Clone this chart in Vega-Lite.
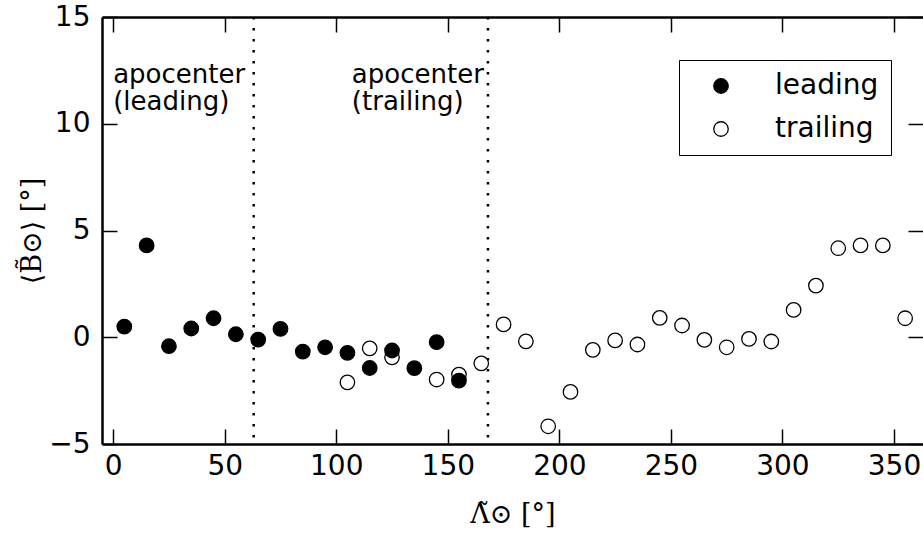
{
  "$schema": "https://vega.github.io/schema/vega-lite/v6.json",
  "width": 821,
  "height": 427,
  "autosize": {"type": "none"},
  "padding": {"left": 102, "top": 17, "right": 0, "bottom": 90},
  "background": "white",
  "config": {
    "view": {"stroke": null},
    "font": "DejaVu Sans",
    "axis": {
      "domainColor": "black",
      "domainWidth": 2.5,
      "tickColor": "black",
      "tickWidth": 1.5,
      "tickSize": -15,
      "labelFont": "DejaVu Sans",
      "labelFontSize": 28,
      "labelColor": "black",
      "grid": false,
      "titleFont": "DejaVu Serif",
      "titleFontSize": 27,
      "titleFontWeight": "normal",
      "titleColor": "black"
    }
  },
  "datasets": {
    "pts": [
      {"lon": 105, "B": -2.11, "arm": "trailing"},
      {"lon": 115, "B": -0.52, "arm": "trailing"},
      {"lon": 125, "B": -0.94, "arm": "trailing"},
      {"lon": 145, "B": -1.98, "arm": "trailing"},
      {"lon": 155, "B": -1.75, "arm": "trailing"},
      {"lon": 165, "B": -1.22, "arm": "trailing"},
      {"lon": 175, "B": 0.6, "arm": "trailing"},
      {"lon": 185, "B": -0.19, "arm": "trailing"},
      {"lon": 195, "B": -4.17, "arm": "trailing"},
      {"lon": 205, "B": -2.56, "arm": "trailing"},
      {"lon": 215, "B": -0.59, "arm": "trailing"},
      {"lon": 225, "B": -0.15, "arm": "trailing"},
      {"lon": 235, "B": -0.34, "arm": "trailing"},
      {"lon": 245, "B": 0.91, "arm": "trailing"},
      {"lon": 255, "B": 0.55, "arm": "trailing"},
      {"lon": 265, "B": -0.12, "arm": "trailing"},
      {"lon": 275, "B": -0.47, "arm": "trailing"},
      {"lon": 285, "B": -0.08, "arm": "trailing"},
      {"lon": 295, "B": -0.2, "arm": "trailing"},
      {"lon": 305, "B": 1.28, "arm": "trailing"},
      {"lon": 315, "B": 2.42, "arm": "trailing"},
      {"lon": 325, "B": 4.17, "arm": "trailing"},
      {"lon": 335, "B": 4.3, "arm": "trailing"},
      {"lon": 345, "B": 4.3, "arm": "trailing"},
      {"lon": 355, "B": 0.89, "arm": "trailing"},
      {"lon": 5, "B": 0.5, "arm": "leading"},
      {"lon": 15, "B": 4.3, "arm": "leading"},
      {"lon": 25, "B": -0.42, "arm": "leading"},
      {"lon": 35, "B": 0.41, "arm": "leading"},
      {"lon": 45, "B": 0.89, "arm": "leading"},
      {"lon": 55, "B": 0.14, "arm": "leading"},
      {"lon": 65, "B": -0.11, "arm": "leading"},
      {"lon": 75, "B": 0.39, "arm": "leading"},
      {"lon": 85, "B": -0.67, "arm": "leading"},
      {"lon": 95, "B": -0.47, "arm": "leading"},
      {"lon": 105, "B": -0.73, "arm": "leading"},
      {"lon": 115, "B": -1.44, "arm": "leading"},
      {"lon": 125, "B": -0.62, "arm": "leading"},
      {"lon": 135, "B": -1.45, "arm": "leading"},
      {"lon": 145, "B": -0.23, "arm": "leading"},
      {"lon": 155, "B": -2.03, "arm": "leading"}
    ],
    "apo": [
      {"lon": 63},
      {"lon": 168}
    ],
    "notes": [
      {"lon": 0, "B": 12, "note": "apocenter\n(leading)"},
      {"lon": 107, "B": 12, "note": "apocenter\n(trailing)"}
    ]
  },
  "resolve": {"axis": {"x": "independent", "y": "independent"}},
  "layer": [
    {
      "data": {"name": "apo"},
      "mark": {"type": "rule", "color": "black", "strokeWidth": 2.5, "strokeDash": [2.5, 8.5]},
      "encoding": {
        "x": {"field": "lon", "type": "quantitative", "scale": {"domain": [-5, 363], "nice": false}, "axis": null}
      }
    },
    {
      "data": {"name": "notes"},
      "mark": {"type": "text", "align": "left", "baseline": "alphabetic", "dy": 2, "fontSize": 26, "lineHeight": 27, "lineBreak": "\n", "color": "black", "font": "DejaVu Sans"},
      "encoding": {
        "x": {"field": "lon", "type": "quantitative", "scale": {"domain": [-5, 363], "nice": false},
              "axis": {"orient": "top", "labels": false, "title": null, "values": [0, 50, 100, 150, 200, 250, 300, 350]}},
        "y": {"field": "B", "type": "quantitative", "scale": {"domain": [-5, 15], "nice": false},
              "axis": {"orient": "right", "labels": false, "domain": false, "title": null, "values": [-5, 0, 5, 10, 15]}},
        "text": {"field": "note"}
      }
    },
    {
      "data": {"name": "pts"},
      "mark": {"type": "point", "shape": "circle", "filled": true, "stroke": "black", "strokeWidth": 1.3, "size": 210, "opacity": 1},
      "encoding": {
        "x": {"field": "lon", "type": "quantitative", "scale": {"domain": [-5, 363], "nice": false},
              "axis": {"orient": "bottom", "title": "Λ̃⊙ [°]", "values": [0, 50, 100, 150, 200, 250, 300, 350], "labelPadding": 23, "titlePadding": 21}},
        "y": {"field": "B", "type": "quantitative", "scale": {"domain": [-5, 15], "nice": false},
              "axis": {"orient": "left", "title": "⟨B̃⊙⟩ [°]", "values": [-5, 0, 5, 10, 15], "labelPadding": 27, "titlePadding": 2}},
        "fill": {"field": "arm", "type": "nominal", "scale": {"domain": ["leading", "trailing"], "range": ["black", "white"]},
                 "legend": {"title": null, "orient": "none", "legendX": 577, "legendY": 43, "strokeColor": "black", "fillColor": "white", "padding": 12, "labelFontSize": 28, "labelFont": "DejaVu Sans", "labelColor": "black", "symbolType": "circle", "symbolSize": 210, "symbolStrokeColor": "black", "symbolStrokeWidth": 1.3, "symbolOffset": 16, "labelOffset": 40, "rowPadding": 15,
                            "encode": {"legend": {"update": {"strokeWidth": {"value": 2}}}}}}
      }
    }
  ]
}
